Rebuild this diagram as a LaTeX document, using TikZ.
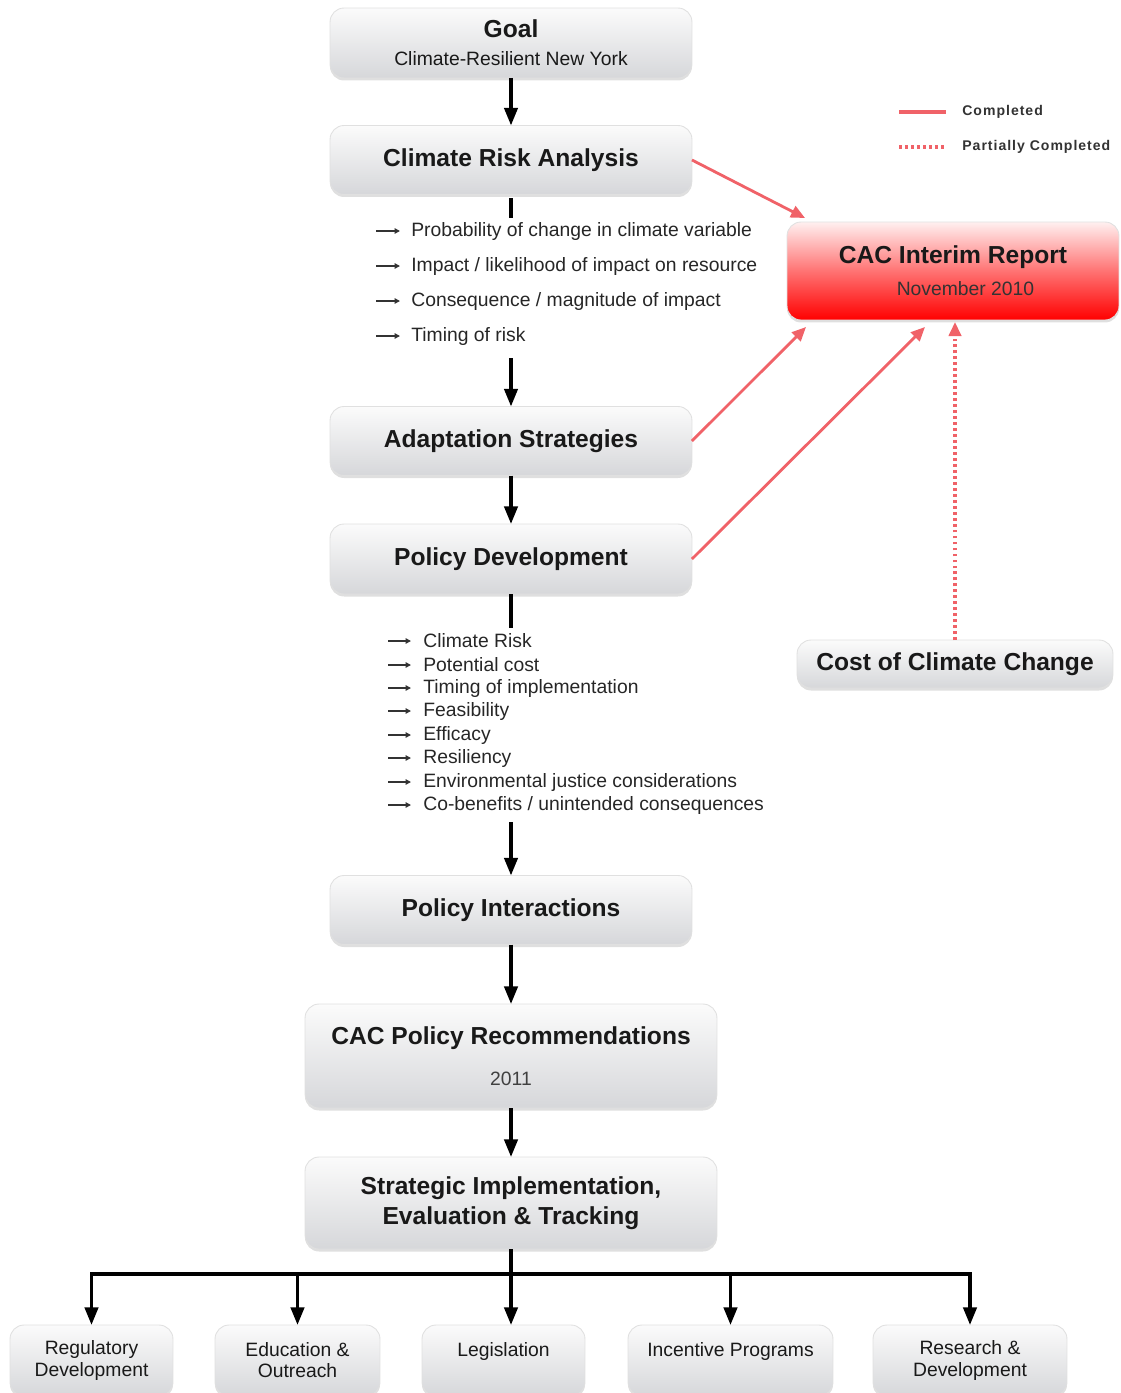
\documentclass[tikz,border=0pt]{standalone}
\usepackage{fontspec}
\setmainfont{Liberation Sans}
\newfontfamily\keyfont[LetterSpace=7]{Liberation Sans}
\usetikzlibrary{
  arrows.meta,
  calc,
  positioning,
  shadows
}
\definecolor{linkred}{RGB}{240,98,104}
\definecolor{boxtop}{RGB}{251,251,251}
\definecolor{boxbottom}{RGB}{214,215,218}
\newcommand\stagetitle{\fontsize{14}{17}\selectfont\bfseries}
\tikzset{
  % For the grey stage boxes.
  stage/.style={
    rounded corners=0.28cm,
    top color=boxtop,
    bottom color=boxbottom,
    draw=black!12,
    line width=0.5pt,
    drop shadow={shadow xshift=0pt, shadow yshift=-0.05cm, opacity=0.25},
    align=center,
    font=\fontsize{11}{13}\selectfont,
    text=black!90,
    inner sep=0pt,
    outer sep=0pt},
%
  % For the red report box.
  report/.style={
    stage,
    top color=red!6,
    bottom color=red,
    middle color=red!55},
%
  % For the items listed under a stage.
  item/.style={
    anchor=west,
    font=\fontsize{11}{13}\selectfont,
    text=black!85,
    inner sep=0pt},
%
  % For the small arrows in front of the items.
  bullet/.style={
    line width=0.8pt,
    draw=black!80,
    -{Triangle[length=3pt,width=3pt]}},
%
  % For main black arrows.
  flow/.style={
    line width=2pt,
    -{Triangle[length=10pt,width=7.5pt]}},
  flow line/.style={
    line width=2pt},
%
  % For links to the report.
  done link/.style={
    draw=linkred,
    line width=1.6pt,
    -{Triangle[length=8pt,width=7pt]}},
  partial link/.style={
    done link,
    line width=1.8pt,
    dash pattern=on 1.6pt off 1.8pt},
%
  % For the legend.
  key/.style={
    anchor=west,
    font=\keyfont\fontsize{8}{10}\selectfont\bfseries,
    text=black!80,
    inner sep=0pt},
}

\begin{document}
\begin{tikzpicture}[x=0.02cm, y=-0.02cm]
  \useasboundingbox (0,0) rectangle (1121,1393);
  \clip (0,0) rectangle (1121,1393);

  % main column
  \node[stage, minimum width=7.24cm, minimum height=1.4cm] (goal) at (511,43)
    {{\stagetitle Goal}\\[2.8pt]Climate-Resilient New York};
  \node[stage, minimum width=7.24cm, minimum height=1.38cm] (cra) at (511,160)
    {\stagetitle Climate Risk Analysis};
  \node[stage, minimum width=7.24cm, minimum height=1.38cm] (adapt) at (511,441)
    {\stagetitle Adaptation Strategies};
  \node[stage, minimum width=7.24cm, minimum height=1.4cm] (pd) at (511,559)
    {\stagetitle Policy Development};
  \node[stage, minimum width=7.24cm, minimum height=1.38cm] (pi) at (511,910)
    {\stagetitle Policy Interactions};
  \node[stage, minimum width=8.24cm, minimum height=2.08cm] (cpr) at (511,1056)
    {{\stagetitle CAC Policy Recommendations}\\[10pt]{\color{black!75}2011}};
  \node[stage, font=\stagetitle, minimum width=8.24cm, minimum height=1.84cm] (si) at (511,1203)
    {Strategic Implementation,\\Evaluation \& Tracking};

  % report side
  \node[report, minimum width=6.64cm, minimum height=1.96cm] (cac) at (953,271)
    {{\stagetitle CAC Interim Report}\\[5.2pt]{\color{black!80}\hspace*{0.5cm}November 2010}};
  \node[stage, minimum width=6.32cm, minimum height=0.96cm] (cost) at (955,664)
    {\stagetitle Cost of Climate Change};

  % bottom row
  \node[stage, font=\fontsize{11}{12}\selectfont, minimum width=3.26cm, minimum height=1.42cm] (reg) at (91.5,1360.5)
    {Regulatory\\Development};
  \node[stage, font=\fontsize{11}{12}\selectfont, minimum width=3.3cm, minimum height=1.42cm] (edu) at (297.5,1360.5)
    {Education \&\\Outreach};
  \node[stage, font=\fontsize{11}{12}\selectfont, minimum width=3.26cm, minimum height=1.42cm] (leg) at (503.5,1360.5)
    {Legislation\\\mbox{}};
  \node[stage, font=\fontsize{11}{12}\selectfont, minimum width=4.1cm, minimum height=1.42cm] (inc) at (730.5,1360.5)
    {Incentive Programs\\\mbox{}};
  \node[stage, font=\fontsize{11}{12}\selectfont, minimum width=3.88cm, minimum height=1.42cm] (rd) at (970,1360.5)
    {Research \&\\Development};

  % risk items
  \coordinate (risk top) at (511,218);
  \coordinate (risk end) at (511,358);
  \node[item] (risk1) at (411,231) {Probability of change in climate variable};
  \node[item] (risk2) at (411,266) {Impact / likelihood of impact on resource};
  \node[item] (risk3) at (411,301) {Consequence / magnitude of impact};
  \node[item] (risk4) at (411,336) {Timing of risk};
  \draw[bullet] ([xshift=-0.7cm]risk1.west) -- ([xshift=-0.22cm]risk1.west);
  \draw[bullet] ([xshift=-0.7cm]risk2.west) -- ([xshift=-0.22cm]risk2.west);
  \draw[bullet] ([xshift=-0.7cm]risk3.west) -- ([xshift=-0.22cm]risk3.west);
  \draw[bullet] ([xshift=-0.7cm]risk4.west) -- ([xshift=-0.22cm]risk4.west);

  % policy criteria
  \coordinate (crit top) at (511,628);
  \coordinate (crit end) at (511,822);
  \node[item] (crit1) at (423,641) {Climate Risk};
  \node[item] (crit2) at (423,665) {Potential cost};
  \node[item] (crit3) at (423,688) {Timing of implementation};
  \node[item] (crit4) at (423,711) {Feasibility};
  \node[item] (crit5) at (423,735) {Efficacy};
  \node[item] (crit6) at (423,758) {Resiliency};
  \node[item] (crit7) at (423,782) {Environmental justice considerations};
  \node[item] (crit8) at (423,805) {Co-benefits / unintended consequences};
  \draw[bullet] ([xshift=-0.7cm]crit1.west) -- ([xshift=-0.24cm]crit1.west);
  \draw[bullet] ([xshift=-0.7cm]crit2.west) -- ([xshift=-0.24cm]crit2.west);
  \draw[bullet] ([xshift=-0.7cm]crit3.west) -- ([xshift=-0.24cm]crit3.west);
  \draw[bullet] ([xshift=-0.7cm]crit4.west) -- ([xshift=-0.24cm]crit4.west);
  \draw[bullet] ([xshift=-0.7cm]crit5.west) -- ([xshift=-0.24cm]crit5.west);
  \draw[bullet] ([xshift=-0.7cm]crit6.west) -- ([xshift=-0.24cm]crit6.west);
  \draw[bullet] ([xshift=-0.7cm]crit7.west) -- ([xshift=-0.24cm]crit7.west);
  \draw[bullet] ([xshift=-0.7cm]crit8.west) -- ([xshift=-0.24cm]crit8.west);

  % black flow
  \draw[flow] (goal.south) -- (cra.north);
  \draw[flow line, shorten <=2pt] (cra.south) -- (risk top);
  \draw[flow] (risk end) -- (adapt.north);
  \draw[flow] (adapt.south) -- (pd.north);
  \draw[flow line] (pd.south) -- (crit top);
  \draw[flow] (crit end) -- (pi.north);
  \draw[flow] (pi.south) -- (cpr.north);
  \draw[flow] (cpr.south) -- (si.north);

  \coordinate (bar) at (511,1274);
  \draw[flow] (si.south) -- (bar |- leg.north);
  \draw[flow] (bar) -| (reg.north);
  \draw[flow] (bar) -| (edu.north);
  \draw[flow] (bar) -| (inc.north);
  \draw[flow] (bar) -| (rd.north);

  % red links
  \draw[done link] (cra.east) -- ([xshift=0.36cm,yshift=0.08cm]cac.north west);
  \draw[done link] (adapt.east) -- ([xshift=0.38cm,yshift=-0.14cm]cac.south west);
  \draw[done link] (pd.east) -- ([xshift=-0.56cm,yshift=-0.14cm]cac.south);
  \draw[partial link] (cost.north) -- ([yshift=-0.04cm]cost.north |- cac.south);

  % legend
  \node[key] (done) at (962,112) {Completed};
  \node[key] (partial) at (962,147) {Partially Completed};
  \draw[draw=linkred, line width=2.2pt]
    ([xshift=-1.26cm]done.west) -- ([xshift=-0.32cm]done.west);
  \draw[draw=linkred, line width=1.8pt, dash pattern=on 1.6pt off 1.8pt]
    ([xshift=-1.26cm]partial.west) -- ([xshift=-0.32cm]partial.west);
\end{tikzpicture}
\end{document}
